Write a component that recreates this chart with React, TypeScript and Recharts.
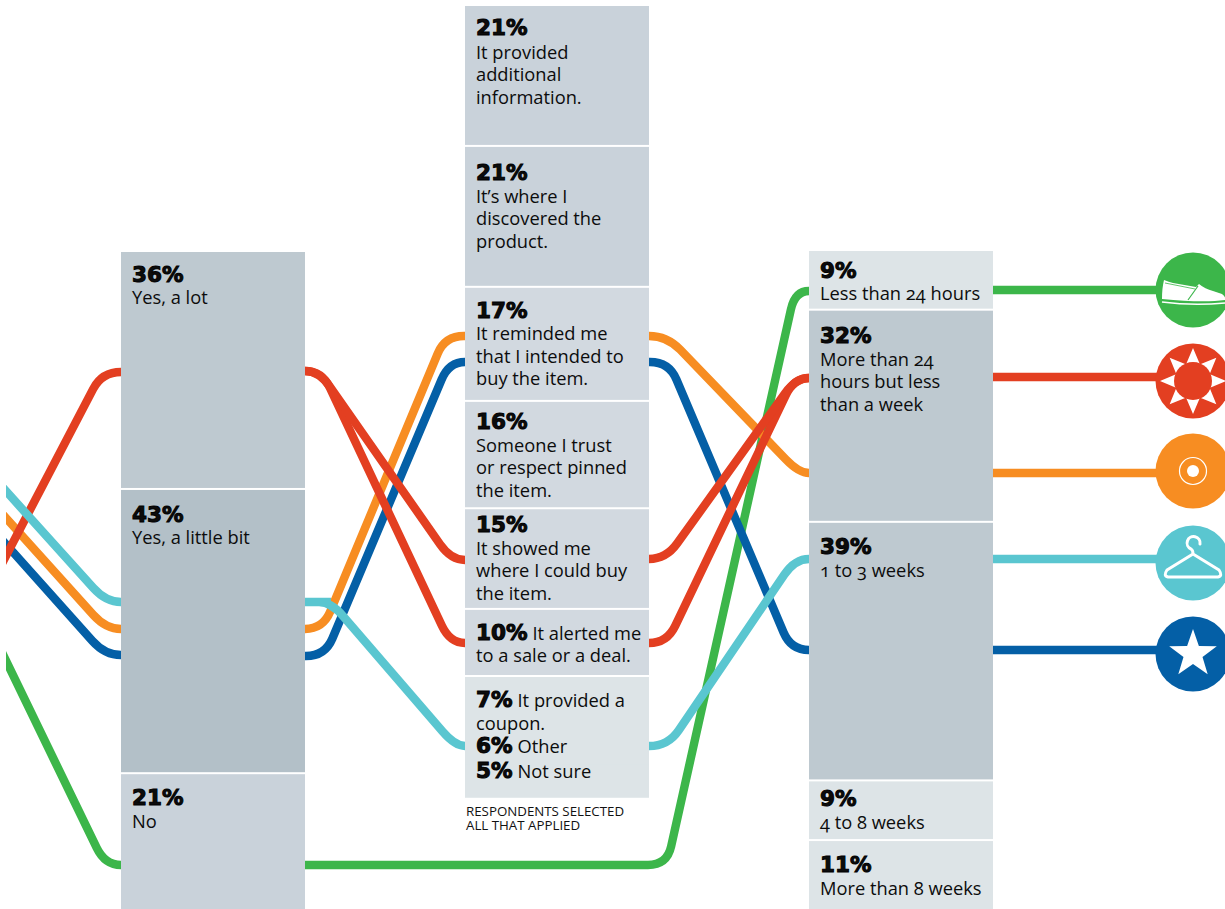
import React from 'react';
import { ComposedChart, Bar, Line, Scatter, XAxis, YAxis } from 'recharts';

// Survey answers, in percent, one list per column
const influenceValues = [36, 43, 21];
const influenceLabels = [['Yes, a lot'], ['Yes, a little bit'], ['No']];

const reasonValues = [21, 21, 17, 16, 15, 10, 7, 6, 5];
const reasonLabels = [
  ['It provided', 'additional', 'information.'],
  ['It’s where I', 'discovered the', 'product.'],
  ['It reminded me', 'that I intended to', 'buy the item.'],
  ['Someone I trust', 'or respect pinned', 'the item.'],
  ['It showed me', 'where I could buy', 'the item.'],
  ['It alerted me', 'to a sale or a deal.'],
  ['It provided a', 'coupon.'],
  ['Other'],
  ['Not sure'],
];

const timingValues = [9, 32, 39, 9, 11];
const timingLabels = [
  ['Less than 24 hours'],
  ['More than 24', 'hours but less', 'than a week'],
  ['1 to 3 weeks'],
  ['4 to 8 weeks'],
  ['More than 8 weeks'],
];

const footnoteLines = ['RESPONDENTS SELECTED', 'ALL THAT APPLIED'];

// Flow lines, as [x, y] vertices; corners get rounded by the curve below
const greenFlows = [
  [[-4, 640], [105, 865], [121, 865]],
  [[305, 865], [667, 865], [795, 291], [809, 291]],
  [[993, 290], [1193, 290]],
];
const blueFlows = [
  [[-4, 533], [105, 655], [121, 655]],
  [[305, 656], [325, 656], [449, 362], [465, 362]],
  [[649, 362], [669, 362], [791, 650], [809, 650]],
  [[993, 650], [1193, 650]],
];
const orangeFlows = [
  [[-4, 507], [106, 629], [121, 629]],
  [[305, 629], [323, 629], [445, 336], [465, 336]],
  [[649, 336], [667, 336], [799, 473], [809, 473]],
  [[993, 473], [1193, 473]],
];
const redFlows = [
  [[-4, 575], [102, 372], [121, 372]],
  [[305, 371], [322, 371], [450, 643], [465, 643]],
  [[305, 371], [319, 371], [451, 560], [465, 560]],
  [[649, 643], [667, 643], [794, 378], [809, 378]],
  [[649, 559], [666, 559], [796, 378], [809, 378]],
  [[993, 377], [1193, 377]],
];
const tealFlows = [
  [[-4, 480], [106, 602], [121, 602]],
  [[305, 602], [319, 602], [331, 602], [455, 746], [465, 746]],
  [[649, 746], [668, 746], [795, 559], [809, 559]],
  [[993, 559], [1193, 559]],
];

const GREEN = '#3cb64a';
const BLUE = '#045fa6';
const ORANGE = '#f78d22';
const RED = '#e33f21';
const TEAL = '#5ac6d0';

const iconPoints = [
  { x: 1193, y: 290, icon: 'shoe', color: GREEN },
  { x: 1193, y: 381, icon: 'sun', color: RED },
  { x: 1193, y: 471, icon: 'target', color: ORANGE },
  { x: 1193, y: 563, icon: 'hanger', color: TEAL },
  { x: 1193, y: 654, icon: 'star', color: BLUE },
];

const SLATE = '#bec9d0';
const STEEL = '#b3c0c8';
const MIST = '#c9d2da';
const PALE = '#d2d9e0';
const ICE = '#dde4e7';

// Each column has its own axes: pixels per percent differ a little between them
const columns = [
  {
    id: 'influence', center: 213, top: 252, scale: 6.61,
    values: influenceValues, labels: influenceLabels,
    fills: [SLATE, STEEL, MIST],
    baselines: [30, 32, 31], bodyGaps: [22, 22, 23], inline: [], flush: [],
  },
  {
    id: 'reason', center: 557, top: 6, scale: 6.71,
    values: reasonValues, labels: reasonLabels,
    fills: [MIST, MIST, PALE, PALE, PALE, PALE, ICE, ICE, ICE],
    baselines: [29, 33, 30, 27, 23, 30, 30, 29, 14],
    bodyGaps: [23.5, 23, 22.5, 23, 22.5, 22.5, 22.5, 0, 0],
    inline: [5, 6, 7, 8],
    flush: [6, 7],
  },
  {
    id: 'timing', center: 901, top: 251, scale: 6.63,
    values: timingValues, labels: timingLabels,
    fills: [ICE, SLATE, SLATE, ICE, ICE],
    baselines: [27, 32, 31, 25, 31], bodyGaps: [21.5, 23, 23, 23, 23], inline: [], flush: [],
  },
];

const chartRows = columns.map((col) => {
  const row: any = { x: col.center };
  col.values.forEach((v, i) => { row[`${col.id}${i}`] = v; });
  return row;
});

// Text blocks for every segment, placed from the running total of its column
const labelPoints = columns.flatMap((col) => {
  let total = 0;
  return col.values.map((value, i) => {
    const top = col.top + total * col.scale;
    total += value;
    return {
      x: col.center - 92 + 11,
      y: top + col.baselines[i],
      value,
      lines: col.labels[i],
      inline: col.inline.includes(i),
      bodyGap: col.bodyGaps[i],
    };
  });
});

const BODY_FONT = '"Open Sans", sans-serif';
const HEAVY_FONT = '"DejaVu Sans", sans-serif';
const BODY_SIZE = 18.3;
const LINE_STEP = 22.5;

const bodyStyle = { fontFeatureSettings: '"onum"' };

// Segments get a white gap below them, except the last one and those merged with the next
const segmentGap = (col, i) => {
  if (i === col.values.length - 1) return 0;
  return col.flush.includes(i) ? -1 : 2;
};

const makeSegment = (col, i) => (props) => {
  const { x, y, width, height, fill, payload } = props;
  if (payload.x !== col.center) return null;
  return (
    <rect
      x={x}
      y={Math.min(y, y + height)}
      width={width}
      height={Math.abs(height) - segmentGap(col, i)}
      fill={fill}
    />
  );
};

const LabelMark = ({ cx, cy, payload }) => {
  const { value, lines, inline, bodyGap } = payload;
  const rest = inline ? lines.slice(1) : lines;
  return (
    <g>
      <text x={cx} y={cy} fill="#0c0c0c" fontFamily={BODY_FONT} fontSize={BODY_SIZE} style={bodyStyle}>
        <tspan fontFamily={HEAVY_FONT} fontWeight={700} fontSize={21.5} stroke="#000" strokeWidth={1}>{value}%</tspan>
        {inline && <tspan dx={5}>{lines[0]}</tspan>}
      </text>
      {rest.map((line, n) => (
        <text
          key={line}
          x={cx}
          y={cy + bodyGap + n * LINE_STEP}
          fill="#0c0c0c"
          fontFamily={BODY_FONT}
          fontSize={BODY_SIZE}
          style={bodyStyle}
        >
          {line}
        </text>
      ))}
    </g>
  );
};

// Polyline with each inner corner replaced by a quadratic bend
const CORNER = 19;
const roundedCorners = (context) => {
  let pts = [];
  return {
    areaStart() {},
    areaEnd() {},
    lineStart() { pts = []; },
    point(x, y) { pts.push([+x, +y]); },
    lineEnd() {
      if (!pts.length) return;
      context.moveTo(pts[0][0], pts[0][1]);
      for (let i = 1; i < pts.length - 1; i++) {
        const [ax, ay] = pts[i - 1];
        const [bx, by] = pts[i];
        const [cx, cy] = pts[i + 1];
        const d1 = Math.hypot(ax - bx, ay - by);
        const d2 = Math.hypot(cx - bx, cy - by);
        const r1 = Math.min(CORNER, d1) / d1;
        const r2 = Math.min(CORNER, d2) / d2;
        context.lineTo(bx + (ax - bx) * r1, by + (ay - by) * r1);
        context.quadraticCurveTo(bx, by, bx + (cx - bx) * r2, by + (cy - by) * r2);
      }
      const last = pts[pts.length - 1];
      context.lineTo(last[0], last[1]);
    },
  };
};

const starPath = () => {
  let d = '';
  for (let i = 0; i < 10; i++) {
    const r = i % 2 === 0 ? 25 : 10;
    const a = (Math.PI / 5) * i - Math.PI / 2;
    d += `${i === 0 ? 'M' : 'L'}${r * Math.cos(a)},${r * Math.sin(a)}`;
  }
  return `${d}Z`;
};

const sunRays = () => {
  const rays = [];
  for (let i = 0; i < 8; i++) {
    const a = (Math.PI / 4) * i;
    const tip = [33 * Math.cos(a), 33 * Math.sin(a)];
    const b1 = [17 * Math.cos(a - 0.46), 17 * Math.sin(a - 0.46)];
    const b2 = [17 * Math.cos(a + 0.46), 17 * Math.sin(a + 0.46)];
    rays.push(`M${tip}L${b1}L${b2}Z`);
  }
  return rays.join('');
};

const IconGlyph = ({ icon, color }) => {
  if (icon === 'shoe') {
    return (
      <g>
        <path
          d="M-29,-10 Q-24,-8 -20,-7 L3,-3 L6,-6 Q12,-1 20,1 L29,4 Q33,7 32,10 Q10,13 -31,9 Q-31,-2 -29,-10Z"
          fill="#fff"
        />
        <path d="M5,-4 L-5,10" stroke={color} strokeWidth={1.2} fill="none" />
        <path d="M-28,-7 L2,-1" stroke={color} strokeWidth={0.8} fill="none" />
        <path d="M-31,12 Q0,16 32,13" stroke="#fff" strokeWidth={1.6} fill="none" />
      </g>
    );
  }
  if (icon === 'sun') {
    return (
      <g>
        <path d={sunRays()} fill="#fff" />
        <circle r={19} fill={color} />
      </g>
    );
  }
  if (icon === 'target') {
    return (
      <g>
        <circle r={13.5} fill="none" stroke="#fff" strokeWidth={1.2} />
        <circle r={6} fill="#fff" />
      </g>
    );
  }
  if (icon === 'hanger') {
    return (
      <path
        d="M7,-19 A6.5,6.5 0 1 0 -2,-14 Q0,-13 0,-9 L-26,7 Q-30,13 -25,14 L25,14 Q30,13 26,7 L0,-9"
        fill="none"
        stroke="#fff"
        strokeWidth={3}
        strokeLinejoin="round"
        strokeLinecap="round"
      />
    );
  }
  return <path d={starPath()} fill="#fff" />;
};

const IconMark = ({ cx, cy, payload }) => (
  <g transform={`translate(${cx},${cy})`}>
    <circle r={37.5} fill={payload.color} />
    <IconGlyph icon={payload.icon} color={payload.color} />
  </g>
);

const FootnoteMark = ({ cx, cy, payload }) => (
  <text x={cx} y={cy} fill="#111" fontFamily={BODY_FONT} fontSize={13.3}>{payload.text}</text>
);

const flowGroups = [
  { color: GREEN, flows: greenFlows },
  { color: BLUE, flows: blueFlows },
  { color: ORANGE, flows: orangeFlows },
  { color: RED, flows: redFlows },
  { color: TEAL, flows: tealFlows },
];

const footnotePoints = footnoteLines.map((text, i) => ({ x: 466, y: 816 + i * 14, text }));

const App = () => (
  <div style={{ position: 'absolute', left: 0, top: 0, width: 1225, height: 909, overflow: 'hidden', background: '#fff' }}>
    <ComposedChart width={1225} height={909} data={chartRows} margin={{ top: 0, right: 0, bottom: 0, left: 6 }}>
      <XAxis xAxisId="flow" dataKey="x" type="number" domain={[6, 1225]} allowDataOverflow hide />
      <YAxis yAxisId="flow" dataKey="y" type="number" domain={[0, 909]} reversed allowDataOverflow hide />
      {columns.map((col) => (
        <XAxis key={col.id} xAxisId={col.id} dataKey="x" type="number" domain={[6, 1225]} allowDataOverflow hide />
      ))}
      {columns.map((col) => (
        <YAxis
          key={col.id}
          yAxisId={col.id}
          type="number"
          domain={[-col.top / col.scale, (909 - col.top) / col.scale]}
          reversed
          allowDataOverflow
          hide
        />
      ))}
      {columns.flatMap((col) =>
        col.values.map((_, i) => (
          <Bar
            key={`${col.id}${i}`}
            dataKey={`${col.id}${i}`}
            xAxisId={col.id}
            yAxisId={col.id}
            stackId={col.id}
            barSize={184}
            fill={col.fills[i]}
            shape={makeSegment(col, i)}
            isAnimationActive={false}
          />
        )),
      )}
      {flowGroups.flatMap((group) =>
        group.flows.map((flow, i) => (
          <Line
            key={`${group.color}${i}`}
            data={flow.map(([x, y]) => ({ x, y }))}
            dataKey="y"
            xAxisId="flow"
            yAxisId="flow"
            type={roundedCorners as any}
            stroke={group.color}
            strokeWidth={8.4}
            dot={false}
            activeDot={false}
            isAnimationActive={false}
          />
        )),
      )}
      <Scatter data={labelPoints} dataKey="y" xAxisId="flow" yAxisId="flow" shape={LabelMark} isAnimationActive={false} />
      <Scatter data={iconPoints} dataKey="y" xAxisId="flow" yAxisId="flow" shape={IconMark} isAnimationActive={false} />
      <Scatter data={footnotePoints} dataKey="y" xAxisId="flow" yAxisId="flow" shape={FootnoteMark} isAnimationActive={false} />
    </ComposedChart>
  </div>
);

export default App;
